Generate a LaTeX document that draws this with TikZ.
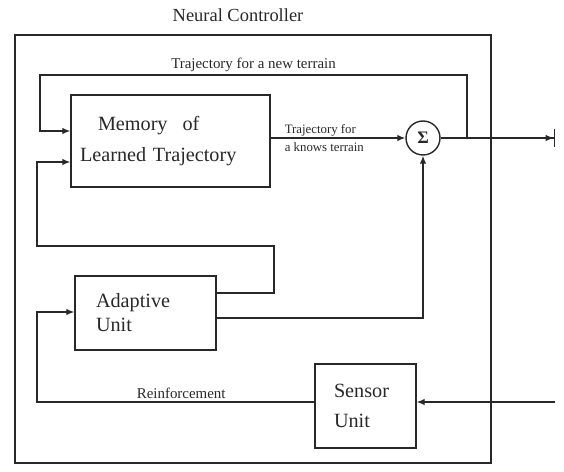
\documentclass[tikz,border=0pt]{standalone}
\usepackage{fontspec}
\setmainfont{Liberation Serif}
\usepackage{tikz}
\usetikzlibrary{arrows.meta,positioning,calc}
\definecolor{inkgrey}{RGB}{40,40,40}

\begin{document}
\begin{tikzpicture}[x=0.02cm, y=-0.02cm, color=inkgrey, line width=0.75pt,
  unit/.style={draw, line width=0.8pt, align=left, inner ysep=0pt},
  flow/.style={-{Latex[length=1.6mm,width=1.3mm]}},
  tag/.style={font=\fontsize{8.5}{10}\selectfont, inner sep=1.5pt}]
\useasboundingbox (0,0) rectangle (564,472);

% controller frame and its title
\draw (15,35) rectangle (491,463);
\node[font=\fontsize{10.5}{12}\selectfont] (title) at (238,15) {Neural Controller};

% blocks
\node[unit, text width=3.62cm, inner xsep=0.18cm, minimum height=1.84cm, font=\fontsize{11.5}{17.5}\selectfont] (mem) at (170.5,141) {\hspace*{0.36cm}Memory\hspace{0.3cm}of\\Learned Trajectory};
\node[unit, text width=1.98cm, inner xsep=0.42cm, minimum height=1.48cm, font=\fontsize{11.5}{13.7}\selectfont] (ada) at (145.5,313) {Adaptive\\Unit};
\node[unit, text width=1.26cm, inner xsep=0.38cm, minimum height=1.68cm, font=\fontsize{11.5}{17}\selectfont] (sen) at (365.5,406) {Sensor\\Unit};
\node[draw, circle, line width=0.8pt, minimum size=0.68cm, inner sep=0pt, font=\bfseries] (sum) at (423,138) {Σ};

% corner points of the wiring
\coordinate (split) at (467,138);
\coordinate (out) at (555,138);
\coordinate (in) at (555,402);
\coordinate (newtop) at (40,75);
\coordinate (loopright) at (274,246);
\coordinate (loopleft) at (37,246);
\coordinate (reinf) at (37,402);

% forward path
\draw[flow] (mem.east |- sum) -- node[pos=0.1, anchor=west, align=left, inner xsep=0pt, font=\fontsize{7.3}{10.3}\selectfont] {Trajectory for\\a knows terrain} (sum.west);
\draw[-{Latex[length=1.6mm,width=1.3mm]Bar[width=3.5mm]}] (sum.east) -- (out);
\draw[flow] ($(ada.east)+(0,5)$) -| (sum.south);

% feedback into the memory
\draw[flow] (split) |- node[tag, above, pos=0.75] {Trajectory for a new terrain} (newtop) |- ($(mem.west)+(0,-10)$);
\draw[flow] ($(ada.east)+(0,-20)$) -| (loopright) -- (loopleft) |- ($(mem.west)+(0,21)$);

% sensing and reinforcement
\draw[flow] (in) -- (sen.east |- in);
\draw[flow] (sen.west |- reinf) -- node[tag, above, pos=0.48] {Reinforcement} (reinf) |- ($(ada.west)+(0,-1)$);
\end{tikzpicture}
\end{document}
